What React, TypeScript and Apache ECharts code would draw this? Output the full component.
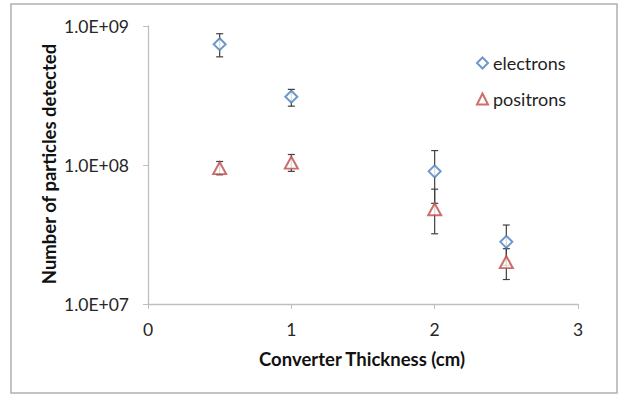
import React, { useEffect, useRef } from "react";
import * as echarts from "echarts";

const thickness = [0.5, 1, 2, 2.5];
const electrons = [7.4e8, 3.1e8, 9.0e7, 2.8e7];
const electronsLow = [6.0e8, 2.65e8, 5.3e7, 1.9e7];
const electronsHigh = [8.8e8, 3.5e8, 1.27e8, 3.7e7];
const positrons = [9.5e7, 1.04e8, 4.8e7, 2.0e7];
const positronsLow = [8.5e7, 9.0e7, 3.2e7, 1.5e7];
const positronsHigh = [1.06e8, 1.19e8, 6.7e7, 2.5e7];
const seriesNames = ["electrons", "positrons"];
const xTitle = "Converter Thickness (cm)";
const yTitle = "Number of particles detected";

const FONT = "Lato, 'Open Sans', sans-serif";

function fmtExp(v: number): string {
  const e = Math.floor(Math.log10(v) + 1e-9);
  const m = v / Math.pow(10, e);
  const sign = e >= 0 ? "+" : "-";
  return m.toFixed(1) + "E" + sign + String(Math.abs(e)).padStart(2, "0");
}

function errorSeries(low: number[], high: number[]) {
  return {
    type: "custom",
    z: 1,
    silent: true,
    data: thickness.map((x, i) => [x, low[i], high[i]]),
    renderItem: (params: any, api: any) => {
      const x = api.value(0);
      const top = api.coord([x, api.value(2)]);
      const bot = api.coord([x, api.value(1)]);
      const cap = 3.5;
      const style = { stroke: "#404040", lineWidth: 1.2 };
      return {
        type: "group",
        children: [
          { type: "line", shape: { x1: top[0], y1: top[1], x2: bot[0], y2: bot[1] }, style },
          { type: "line", shape: { x1: top[0] - cap, y1: top[1], x2: top[0] + cap, y2: top[1] }, style },
          { type: "line", shape: { x1: bot[0] - cap, y1: bot[1], x2: bot[0] + cap, y2: bot[1] }, style },
        ],
      };
    },
  };
}

export default function App() {
  const ref = useRef<HTMLDivElement>(null);
  useEffect(() => {
    if (!ref.current) return;
    const chart = echarts.init(ref.current, null, { renderer: "svg" });
    chart.setOption({
      animation: false,
      backgroundColor: "#ffffff",
      grid: { left: 148, right: 40, top: 26, bottom: 90 },
      legend: {
        orient: "vertical",
        left: 471,
        top: 49,
        itemWidth: 11,
        itemHeight: 11,
        itemGap: 18,
        data: seriesNames,
        textStyle: { fontFamily: FONT, fontSize: 18, color: "#1f1f1f" },
      },
      xAxis: {
        type: "value",
        min: 0,
        max: 3,
        interval: 1,
        axisLine: { lineStyle: { color: "#bfbfbf", width: 1.3 } },
        axisTick: { show: true, length: 5, lineStyle: { color: "#bfbfbf" } },
        axisLabel: { fontFamily: FONT, fontSize: 17.5, color: "#262626", margin: 16 },
        splitLine: { show: false },
      },
      yAxis: {
        type: "log",
        logBase: 10,
        min: 1e7,
        max: 1e9,
        axisLine: { show: true, lineStyle: { color: "#bfbfbf", width: 1.3 } },
        axisTick: { show: true, length: 5, lineStyle: { color: "#bfbfbf" } },
        minorTick: { show: false },
        axisLabel: {
          fontFamily: FONT,
          fontSize: 17.5,
          color: "#262626",
          margin: 19,
          formatter: (v: number) => fmtExp(v),
        },
        splitLine: { show: false },
      },
      graphic: [
        {
          type: "rect",
          shape: { x: 11, y: 4, width: 606, height: 389 },
          style: { fill: "none", stroke: "#b0b0b0", lineWidth: 1.5 },
          silent: true,
        },
        {
          type: "text",
          x: 362,
          y: 359,
          style: {
            text: xTitle,
            fontFamily: FONT,
            fontSize: 18.5,
            fontWeight: "bold",
            fill: "#111",
            textAlign: "center",
            textVerticalAlign: "middle",
          },
        },
        {
          type: "text",
          x: 49,
          y: 164,
          rotation: Math.PI / 2,
          style: {
            text: yTitle,
            fontFamily: FONT,
            fontSize: 18.5,
            fontWeight: "bold",
            fill: "#111",
            textAlign: "center",
            textVerticalAlign: "middle",
          },
        },
      ],
      series: [
        errorSeries(electronsLow, electronsHigh),
        errorSeries(positronsLow, positronsHigh),
        {
          name: seriesNames[0],
          type: "scatter",
          z: 3,
          symbol: "emptyDiamond",
          symbolSize: [12, 12],
          itemStyle: { color: "#4a7ebb", borderColor: "#4a7ebb", borderWidth: 1.5 },
          data: thickness.map((x, i) => [x, electrons[i]]),
        },
        {
          name: seriesNames[1],
          type: "scatter",
          z: 3,
          symbol: "emptyTriangle",
          symbolSize: [13, 12],
          itemStyle: { color: "#be4b48", borderColor: "#be4b48", borderWidth: 1.5 },
          data: thickness.map((x, i) => [x, positrons[i]]),
        },
      ],
    });
    return () => chart.dispose();
  }, []);
  return (
    <div
      ref={ref}
      style={{ position: "fixed", left: 0, top: 0, width: 618, height: 394 }}
    />
  );
}
